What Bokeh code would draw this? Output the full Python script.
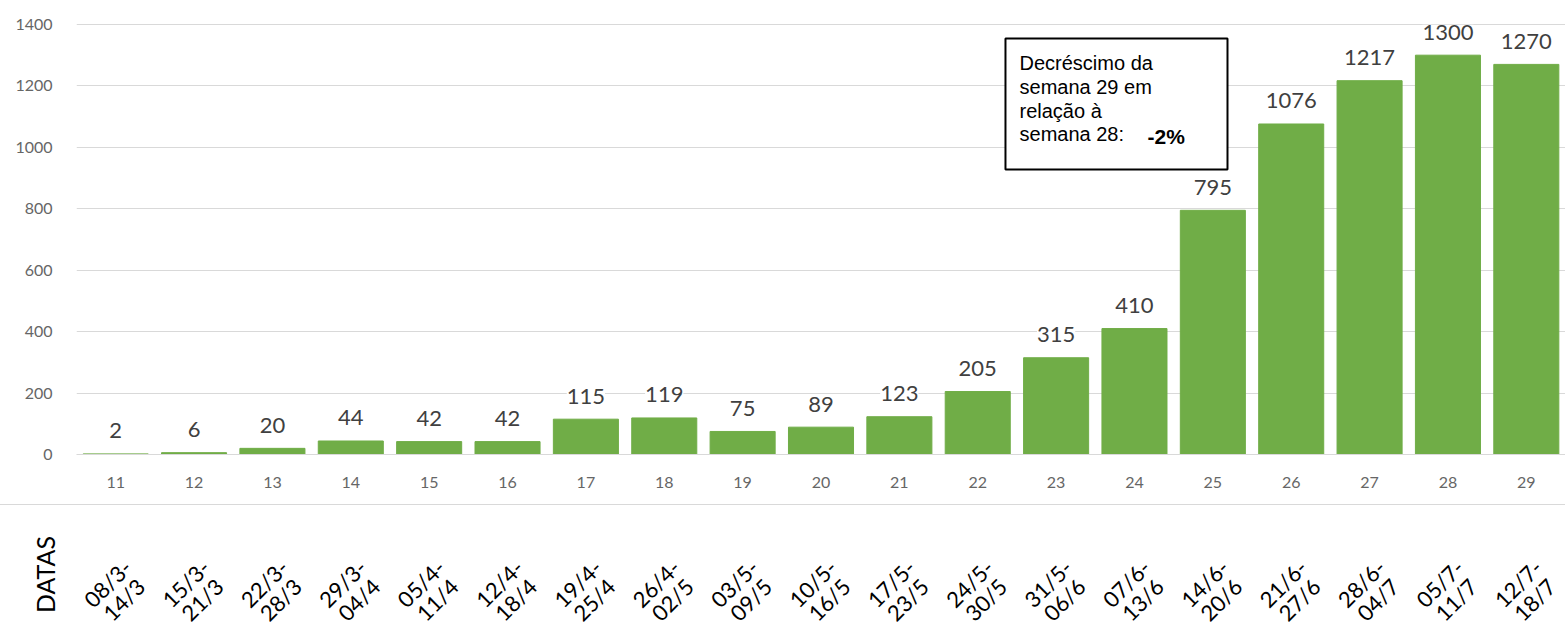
import math
from bokeh.plotting import figure
from bokeh.layouts import column
from bokeh.models import (ColumnDataSource, FactorRange, Range1d, FixedTicker,
                          Label, BoxAnnotation, Div)
from bokeh.core.properties import value
from bokeh.embed import file_html
from bokeh.resources import INLINE

weeks = ["11", "12", "13", "14", "15", "16", "17", "18", "19", "20",
         "21", "22", "23", "24", "25", "26", "27", "28", "29"]
counts = [2, 6, 20, 44, 42, 42, 115, 119, 75, 89, 123, 205, 315, 410,
          795, 1076, 1217, 1300, 1270]
dates = ["08/3-\n14/3", "15/3-\n21/3", "22/3-\n28/3", "29/3-\n04/4",
         "05/4-\n11/4", "12/4-\n18/4", "19/4-\n25/4", "26/4-\n02/5",
         "03/5-\n09/5", "10/5-\n16/5", "17/5-\n23/5", "24/5-\n30/5",
         "31/5-\n06/6", "07/6-\n13/6", "14/6-\n20/6", "21/6-\n27/6",
         "28/6-\n04/7", "05/7-\n11/7", "12/7-\n18/7"]
y_ticks = [0, 200, 400, 600, 800, 1000, 1200, 1400]
note_text = "Decréscimo da\nsemana 29 em\nrelação à\nsemana 28:"
note_value = "-2%"
dates_title = "DATAS"

W = 1565
LEFT = 76
FONT = "Lato"

src = ColumnDataSource(dict(week=weeks, count=counts, date=dates,
                            label=[str(c) for c in counts]))
xr = FactorRange(*weeks, range_padding=0)

p = figure(width=W, height=504, output_backend="svg", toolbar_location=None,
           x_range=xr, y_range=Range1d(0, 1465),
           min_border_left=LEFT, min_border_right=0, min_border_top=4,
           min_border_bottom=50)
p.outline_line_color = None
p.background_fill_color = "white"
p.border_fill_color = "white"

p.xgrid.grid_line_color = None
p.ygrid.grid_line_color = "#d9d9d9"
p.ygrid.grid_line_width = 1

p.vbar(x="week", top="count", width=0.83, color="#70AD47", source=src)
p.text(x="week", y="count", text="label", source=src,
       text_align="center", text_baseline="middle", y_offset=-23,
       text_font=value(FONT), text_font_size="22px",
       text_color="#404040", background_fill_color="white")

p.yaxis.ticker = FixedTicker(ticks=y_ticks)
p.yaxis.axis_line_color = None
p.yaxis.major_tick_line_color = None
p.yaxis.minor_tick_line_color = None
p.yaxis.major_label_standoff = 18
p.yaxis.major_label_text_font = FONT
p.yaxis.major_label_text_font_size = "16px"
p.yaxis.major_label_text_color = "#666666"

p.xaxis.axis_line_color = "#d9d9d9"
p.xaxis.major_tick_line_color = None
p.xaxis.major_label_standoff = 16
p.xaxis.major_label_text_font = FONT
p.xaxis.major_label_text_font_size = "16px"
p.xaxis.major_label_text_color = "#666666"

# note box
p.add_layout(BoxAnnotation(left=11.854, right=14.687, top=1354, bottom=928,
                           fill_color="white", fill_alpha=1,
                           line_color="black", line_alpha=1, line_width=2))
p.add_layout(Label(x=12.033, y=1158, text=note_text, text_align="left",
                   text_baseline="middle", text_font="Liberation Sans",
                   text_font_size="20px", text_line_height=1.08,
                   text_color="black"))
p.add_layout(Label(x=13.666, y=1034, text=note_value, text_align="left",
                   text_baseline="middle", text_font="Liberation Sans",
                   text_font_size="21px", text_font_style="bold",
                   text_color="black"))

# bottom border of the chart box
border = Div(text="", width=W, height=1, margin=0,
             styles={"background-color": "#d9d9d9"})

# lower panel with the date ranges
H2 = 119
DATES_Y = 86
TITLE_TICK = DATES_Y - 17
p2 = figure(width=W, height=H2, output_backend="svg", toolbar_location=None,
            x_range=xr, y_range=Range1d(H2, 0),
            x_axis_location=None,
            min_border_left=LEFT, min_border_right=0,
            min_border_top=0, min_border_bottom=0)
p2.grid.visible = False
p2.outline_line_color = None
p2.background_fill_color = "white"
p2.border_fill_color = "white"
p2.yaxis.ticker = FixedTicker(ticks=[TITLE_TICK])
p2.yaxis.major_label_overrides = {TITLE_TICK: dates_title}
p2.yaxis.major_label_orientation = "vertical"
p2.yaxis.axis_line_color = None
p2.yaxis.major_tick_line_color = None
p2.yaxis.minor_tick_line_color = None
p2.yaxis.major_label_standoff = 11
p2.yaxis.major_label_text_font = FONT
p2.yaxis.major_label_text_font_size = "25px"
p2.yaxis.major_label_text_color = "black"

p2.text(x="week", y=DATES_Y, text="date", source=src, angle=math.pi / 4,
        text_align="center", text_baseline="middle",
        text_font=value(FONT), text_font_size="22px",
        text_line_height=0.85, text_color="black")

layout = column(p, border, p2, spacing=0)
open("out.html", "w").write(file_html(layout, INLINE))
